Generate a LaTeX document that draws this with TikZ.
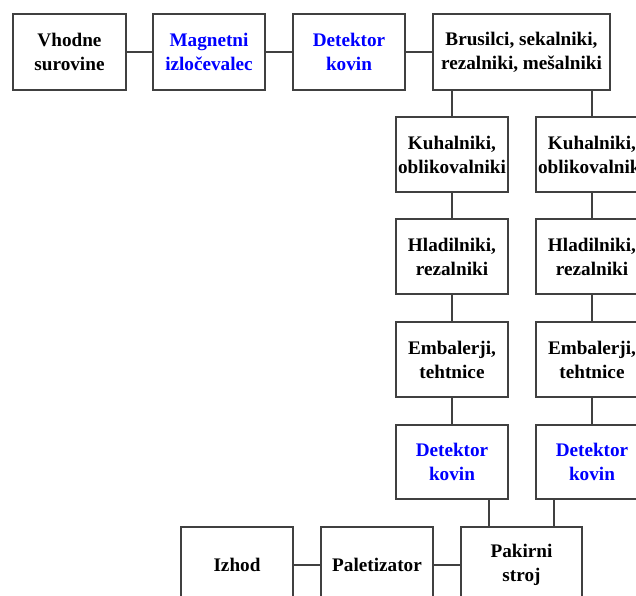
\documentclass[tikz,border=0pt]{standalone}
\usepackage{fontspec}
\setmainfont{Liberation Serif}
\begin{document}
\begin{tikzpicture}[x=1pt,y=-1pt,
  box/.style={draw=black!75, line width=1.5pt, fill=white, rectangle, align=center,
    font=\fontsize{19.2}{24}\selectfont\bfseries, inner sep=0pt,
    minimum width=112pt, minimum height=75pt},
  bluetext/.style={text=blue},
  link/.style={draw=black!75, line width=1.5pt}]
\useasboundingbox (0,0) rectangle (636,595);
\clip (0,0) rectangle (636,595);
\fill[white] (0,0) rectangle (636,595);
% top row
\node[box, minimum width=113pt, minimum height=76pt] (vh) at (69.5,52) {Vhodne\\surovine};
\node[box, bluetext, minimum height=76pt] (mag) at (209,52) {Magnetni\\izločevalec};
\node[box, bluetext, minimum height=76pt] (det0) at (349,52) {Detektor\\kovin};
\node[box, minimum width=177pt, minimum height=76pt] (bru) at (521.5,52) {Brusilci, sekalniki,\\rezalniki, mešalniki};
% column 1
\node[box] (k1) at (452,154.5) {Kuhalniki,\\oblikovalniki};
\node[box] (h1) at (452,256.5) {Hladilniki,\\rezalniki};
\node[box] (e1) at (452,359.5) {Embalerji,\\tehtnice};
\node[box, bluetext, minimum height=74pt] (d1) at (452,462) {Detektor\\kovin};
% column 2
\node[box] (k2) at (592,154.5) {Kuhalniki,\\oblikovalniki};
\node[box] (h2) at (592,256.5) {Hladilniki,\\rezalniki};
\node[box] (e2) at (592,359.5) {Embalerji,\\tehtnice};
\node[box, bluetext, minimum height=74pt] (d2) at (592,462) {Detektor\\kovin};
% bottom row
\node[box, minimum width=121pt, minimum height=76pt] (pak) at (521.5,565) {Pakirni\\stroj};
\node[box, minimum height=76pt] (pal) at (377,565) {Paletizator};
\node[box, minimum height=76pt] (izh) at (237,565) {Izhod};
% connectors
\draw[link] (vh) -- (mag);
\draw[link] (mag) -- (det0);
\draw[link] (det0) -- (bru);
\draw[link] (bru.south -| k1) -- (k1);
\draw[link] (bru.south -| k2) -- (k2);
\draw[link] (k1) -- (h1);
\draw[link] (h1) -- (e1);
\draw[link] (e1) -- (d1);
\draw[link] (k2) -- (h2);
\draw[link] (h2) -- (e2);
\draw[link] (e2) -- (d2);
\coordinate (c1) at (489,0);
\coordinate (c2) at (554,0);
\draw[link] (d1.south -| c1) -- (pak.north -| c1);
\draw[link] (d2.south -| c2) -- (pak.north -| c2);
\draw[link] (izh) -- (pal);
\draw[link] (pal) -- (pak);
\end{tikzpicture}
\end{document}
